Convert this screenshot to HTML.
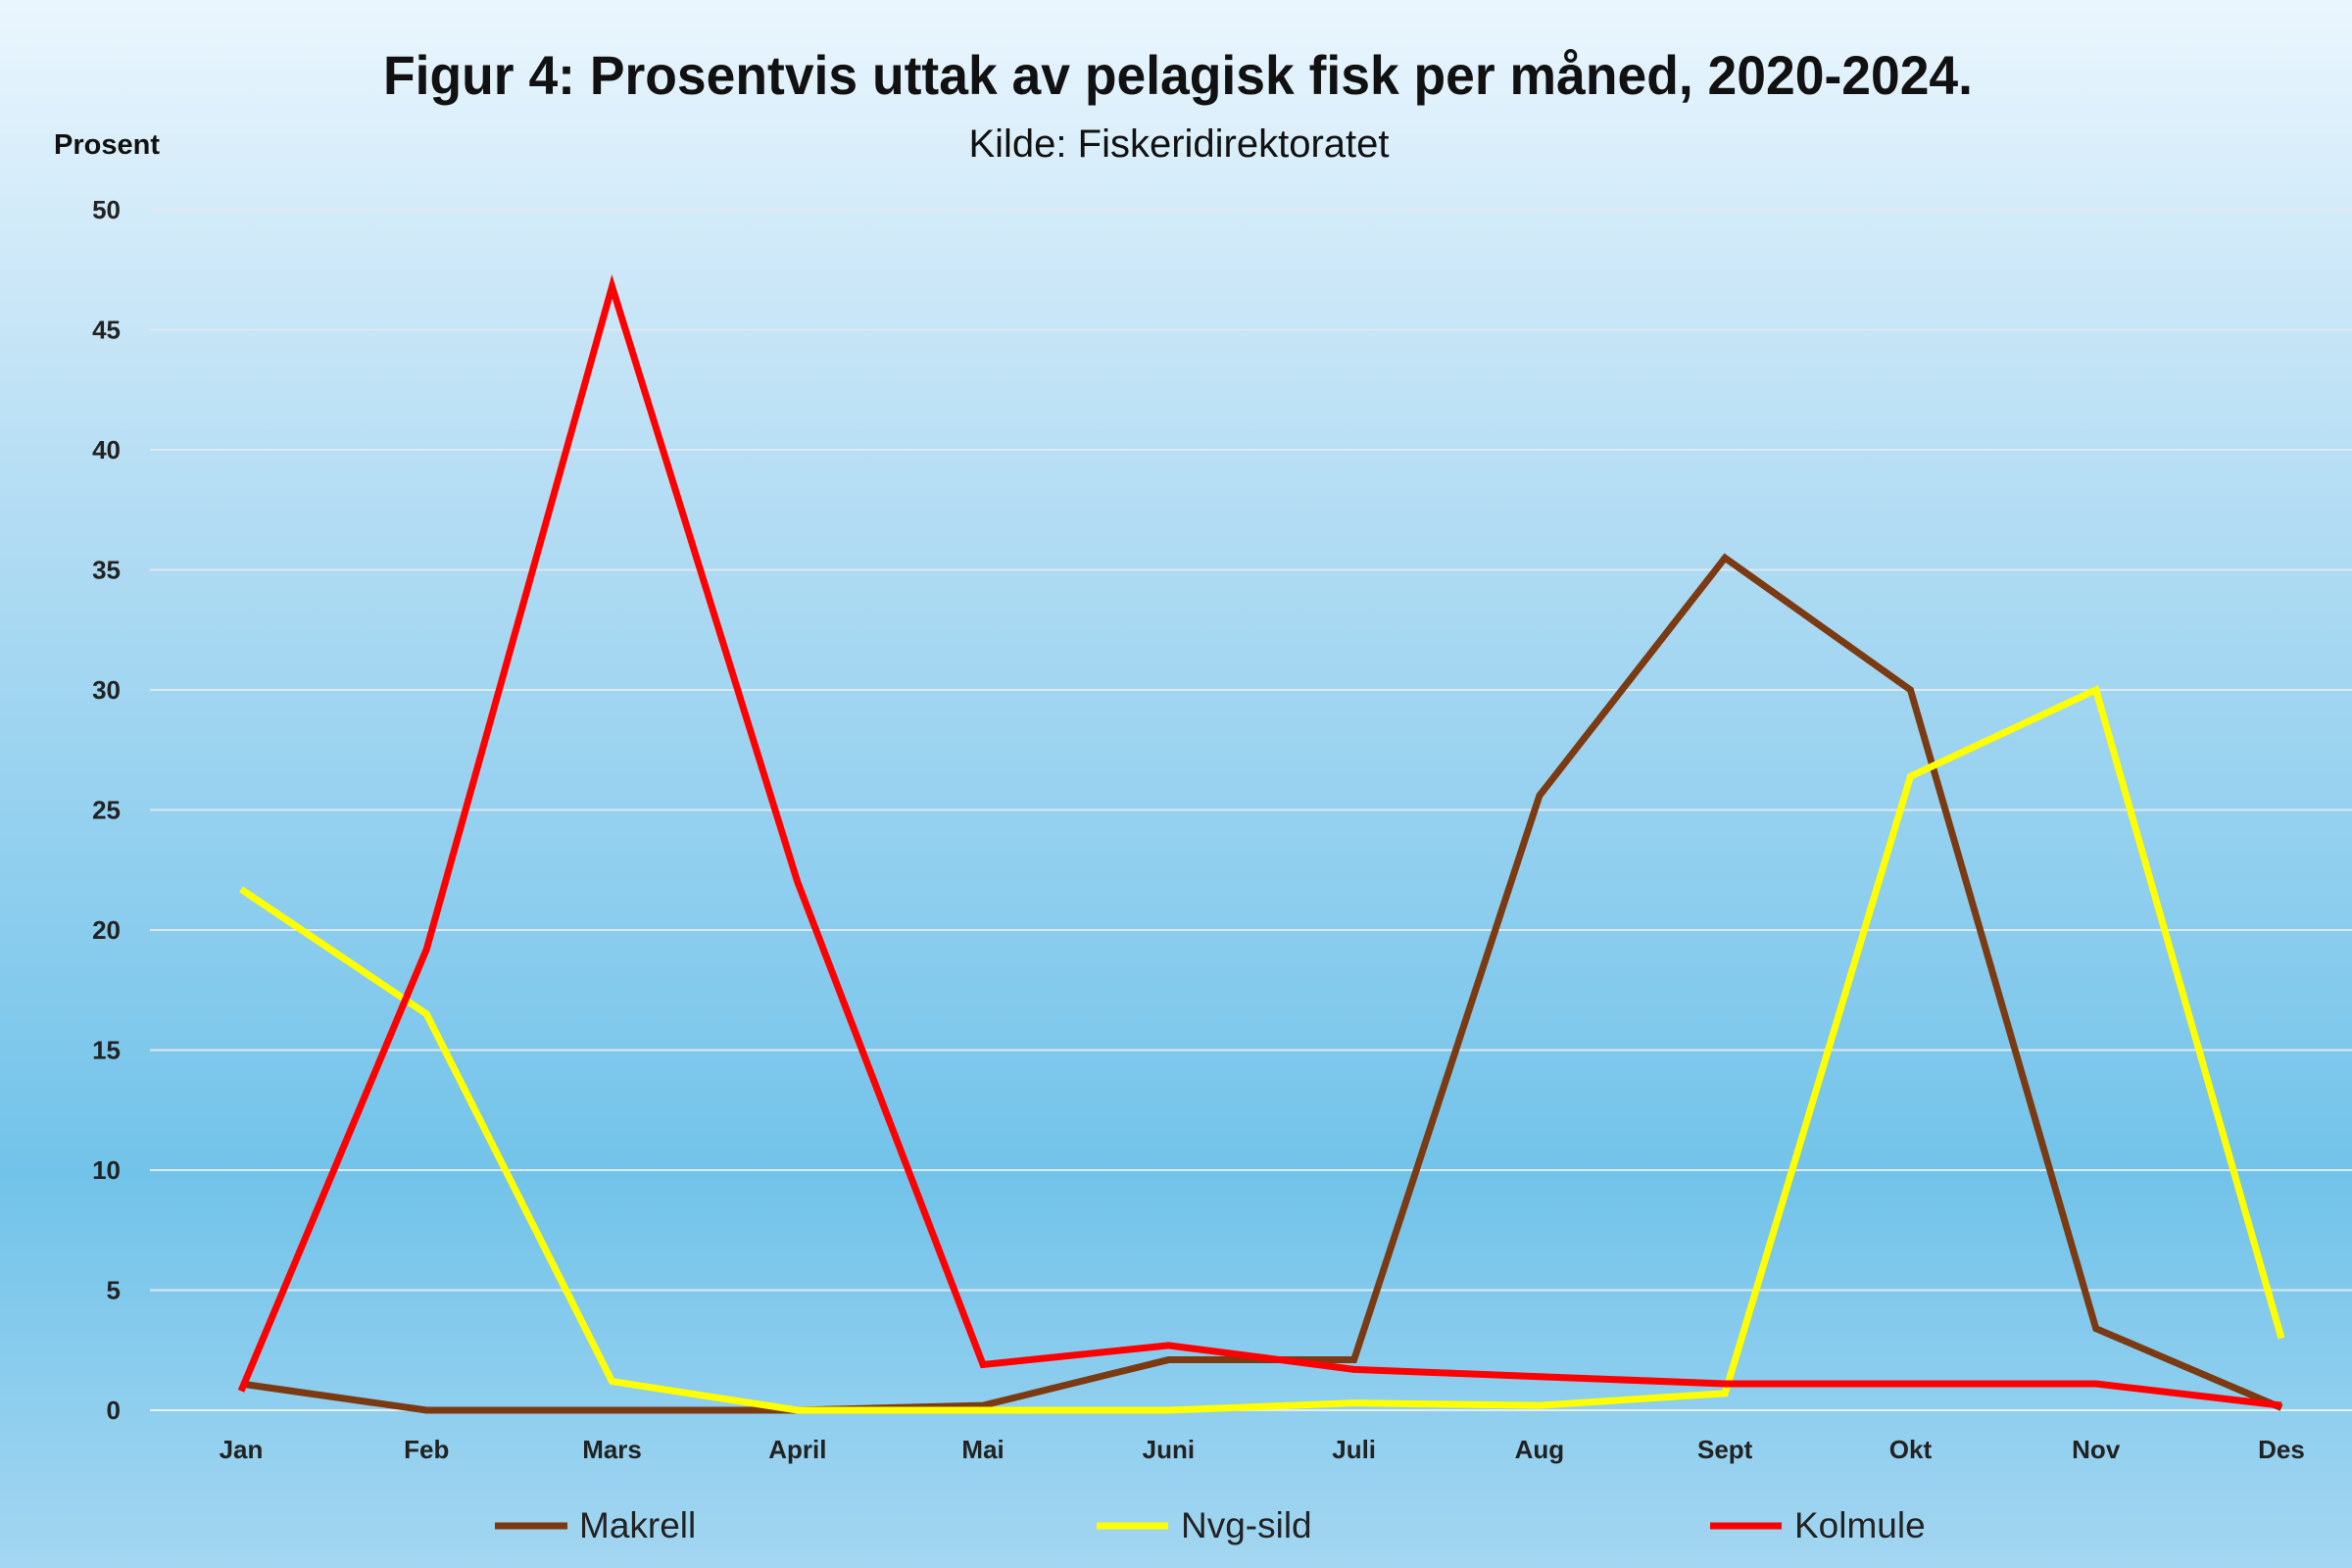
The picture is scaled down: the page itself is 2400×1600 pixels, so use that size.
<!DOCTYPE html>
<html><head><meta charset="utf-8"><style>
html,body{margin:0;padding:0;width:2400px;height:1600px;overflow:hidden}
svg{display:block}
text{font-family:"Liberation Sans Narrow","Liberation Sans",sans-serif}
</style></head><body>
<svg id="chart" width="2400" height="1600" viewBox="0 0 2400 1600" xmlns="http://www.w3.org/2000/svg">
<defs><linearGradient id="bg" x1="0" y1="0" x2="0" y2="1">
<stop offset="0" stop-color="#eaf6fd"/><stop offset="0.3" stop-color="#b7def4"/><stop offset="0.75" stop-color="#72c3ea"/><stop offset="1" stop-color="#a3d6f1"/></linearGradient></defs>
<rect width="2400" height="1600" fill="url(#bg)"/>
<text x="1202" y="96" text-anchor="middle" font-size="56" font-weight="bold" fill="#111" textLength="1622" lengthAdjust="spacingAndGlyphs">Figur 4: Prosentvis uttak av pelagisk fisk per måned, 2020-2024.</text>
<text x="1203" y="160" text-anchor="middle" font-size="40" fill="#111">Kilde: Fiskeridirektoratet</text>
<text x="55" y="157" font-size="29" font-weight="bold" fill="#111">Prosent</text>
<g id="grid"></g><g id="yticks"></g><g id="xticks"></g><g id="series"></g>
<g>
<line x1="505" y1="1557" x2="579" y2="1557" stroke="#7b3a12" stroke-width="7"/>
<text x="591" y="1569" font-size="37" fill="#222">Makrell</text>
<line x1="1119" y1="1557" x2="1192" y2="1557" stroke="#ffff00" stroke-width="7"/>
<text x="1205" y="1569" font-size="37" fill="#222">Nvg-sild</text>
<line x1="1745" y1="1557" x2="1818" y2="1557" stroke="#ff0000" stroke-width="7"/>
<text x="1831" y="1569" font-size="37" fill="#222">Kolmule</text>
</g>
</svg>
<script>
const categories=["Jan","Feb","Mars","April","Mai","Juni","Juli","Aug","Sept","Okt","Nov","Des"];
const makrell=[1.1,0,0,0,0.2,2.1,2.1,25.6,35.5,30,3.4,0.1];
const nvgSild=[21.7,16.5,1.2,0,0,0,0.3,0.2,0.7,26.4,30,3.0];
const kolmule=[0.8,19.2,46.8,22,1.9,2.7,1.7,1.4,1.1,1.1,1.1,0.2];
const yTicks=[0,5,10,15,20,25,30,35,40,45,50];
const NS="http://www.w3.org/2000/svg";
const y=v=>1439-(1439-214)*v/50;
const x=i=>246+i*(2328-246)/11;
function mk(t,a,p){const e=document.createElementNS(NS,t);for(const k in a)e.setAttribute(k,a[k]);p.appendChild(e);return e;}
const grid=document.getElementById('grid'),yt=document.getElementById('yticks'),xt=document.getElementById('xticks'),se=document.getElementById('series');
yTicks.forEach(v=>{
 const l=mk('line',{x1:153,x2:2400,y1:y(v),y2:y(v),stroke:v===0?'#e6eef4':'#dfe8ee','stroke-width':2},grid);
 
 
 const t=mk('text',{x:123,y:y(v)+9,'text-anchor':'end','font-size':26,'font-weight':'bold',fill:'#222'},yt);
 t.textContent=v;
 
 
});
categories.forEach((c,i)=>{
 const t=mk('text',{x:x(i),y:1488,'text-anchor':'middle','font-size':26,'font-weight':'bold',fill:'#222'},xt);
 t.textContent=c;
 
 
});
[[makrell,'#7b3a12','makrell'],[nvgSild,'#ffff00','nvg-sild'],[kolmule,'#ff0000','kolmule']].forEach(([d,col,n])=>{
 const p=mk('polyline',{points:d.map((v,i)=>x(i)+','+y(v)).join(' '),fill:'none',stroke:col,'stroke-width':7,'stroke-linejoin':'miter'},se);
 
 
});
</script>
</body></html>
